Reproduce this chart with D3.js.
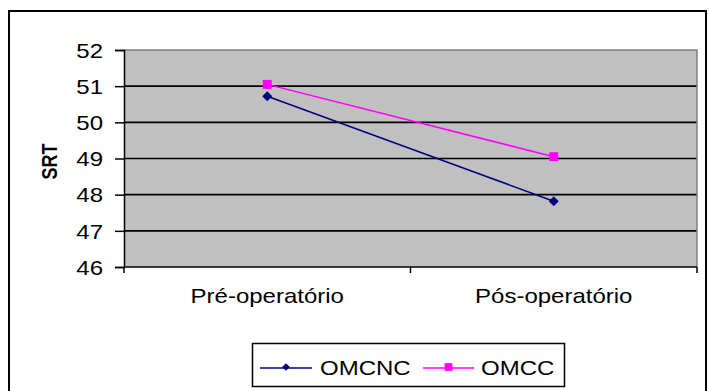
<!DOCTYPE html>
<html>
<head>
<meta charset="utf-8">
<script src="https://cdn.jsdelivr.net/npm/d3@7"></script>
<style>
  html, body { margin: 0; padding: 0; background: #fff; }
  svg { display: block; }
  text { font-family: "Liberation Sans", Arial, sans-serif; fill: #000; }
</style>
</head>
<body>
<svg id="chart" width="709" height="391"></svg>
<script>
// Data
const categories = ["Pré-operatório", "Pós-operatório"];
const seriesNames = ["OMCNC", "OMCC"];
const omcnc = [50.72, 47.82];
const omcc = [51.05, 49.05];
const yTicks = [46, 47, 48, 49, 50, 51, 52];

const seriesColors = ["#000080", "#FF00FF"];
const seriesValues = [omcnc, omcc];

const plot = { left: 124, right: 697, top: 50, bottom: 267 };
const SX = 1.2; // horizontal stretch of the glyphs

const svg = d3.select("#chart");

// Outer frame
svg.append("rect")
  .attr("x", 9).attr("y", 11)
  .attr("width", 697).attr("height", 400)
  .attr("fill", "#fff").attr("stroke", "#000").attr("stroke-width", 2);

const x = d3.scalePoint().domain(categories).range([plot.left, plot.right]).padding(0.5);
const xBand = d3.scaleBand().domain(categories).range([plot.left, plot.right]);
const y = d3.scaleLinear().domain([46, 52]).range([plot.bottom, plot.top]);

// Plot area background
svg.append("rect")
  .attr("x", plot.left).attr("y", plot.top)
  .attr("width", plot.right - plot.left).attr("height", plot.bottom - plot.top)
  .attr("fill", "#C0C0C0");

// Gridlines
svg.append("g").selectAll("line")
  .data(yTicks.filter(d => d > 46 && d < 52))
  .join("line")
  .attr("x1", plot.left).attr("x2", plot.right)
  .attr("y1", d => y(d)).attr("y2", d => y(d))
  .attr("stroke", "#000").attr("stroke-width", 1.6);

// Plot border (top & right in grey)
svg.append("path")
  .attr("d", `M${plot.left},${plot.top}H${plot.right}V${plot.bottom}`)
  .attr("fill", "none").attr("stroke", "#808080").attr("stroke-width", 1.5);

// Y axis
const yAxis = svg.append("g")
  .attr("transform", `translate(${plot.left},0)`)
  .call(d3.axisLeft(y).tickValues(yTicks).tickSize(9).tickPadding(12).tickFormat(d3.format("d")));
yAxis.select(".domain").attr("stroke", "#000").attr("stroke-width", 1.5);
yAxis.selectAll(".tick line").attr("stroke", "#000").attr("stroke-width", 1.5);
yAxis.selectAll(".tick text")
  .attr("font-size", 20)
  .attr("font-family", "Liberation Sans, Arial, sans-serif")
  .attr("fill", "#000")
  .attr("dy", "0.36em")
  .each(function () {
    // stretch glyphs horizontally around their right edge
    const t = d3.select(this);
    const xx = +t.attr("x");
    t.attr("x", xx / SX).attr("transform", `scale(${SX},1)`);
  });

// X axis
const xAxis = svg.append("g")
  .attr("transform", `translate(0,${plot.bottom})`);
xAxis.append("line")
  .attr("x1", plot.left).attr("x2", plot.right)
  .attr("stroke", "#000").attr("stroke-width", 1.6);
const boundaries = [plot.left, ...categories.slice(1).map(c => xBand(c)), plot.right];
xAxis.selectAll("line.tk").data(boundaries).join("line")
  .attr("class", "tk")
  .attr("x1", d => d).attr("x2", d => d)
  .attr("y1", 0).attr("y2", 6)
  .attr("stroke", "#000").attr("stroke-width", 1.5);
xAxis.selectAll("text").data(categories).join("text")
  .attr("transform", d => `translate(${x(d)},36) scale(${SX},1)`)
  .attr("text-anchor", "middle")
  .attr("font-size", 20)
  .text(d => d);

// Y axis title
svg.append("text")
  .attr("transform", `translate(57,${(plot.top + plot.bottom) / 2 + 3}) scale(${SX},1) rotate(-90)`)
  .attr("text-anchor", "middle")
  .attr("font-size", 18)
  .attr("font-weight", "bold")
  .text("SRT");

// Series lines
const line = d3.line().x((d, i) => x(categories[i])).y(d => y(d));
seriesValues.forEach((vals, si) => {
  svg.append("path")
    .datum(vals)
    .attr("d", line)
    .attr("fill", "none")
    .attr("stroke", seriesColors[si])
    .attr("stroke-width", 1.5);
});

// Markers: diamond = square turned by 45 degrees
const diamond = d3.symbol().type(d3.symbolSquare).size(50);
const square = d3.symbol().type(d3.symbolSquare).size(80);
svg.append("g").selectAll("path").data(omcnc).join("path")
  .attr("transform", (d, i) => `translate(${x(categories[i])},${y(d)}) rotate(45)`)
  .attr("d", diamond)
  .attr("fill", seriesColors[0]);
svg.append("g").selectAll("path").data(omcc).join("path")
  .attr("transform", (d, i) => `translate(${x(categories[i])},${y(d)})`)
  .attr("d", square)
  .attr("fill", seriesColors[1]);

// Legend
const legend = svg.append("g");
legend.append("rect")
  .attr("x", 252.5).attr("y", 343.5).attr("width", 312).attr("height", 43)
  .attr("fill", "#fff").attr("stroke", "#000").attr("stroke-width", 1.5);
const legendItems = [
  { name: seriesNames[0], x0: 260, x1: 312, tx: 320, sym: d3.symbol().type(d3.symbolSquare).size(30), rot: 45 },
  { name: seriesNames[1], x0: 423, x1: 474, tx: 481, sym: d3.symbol().type(d3.symbolSquare).size(60), rot: 0 }
];
legendItems.forEach((it, i) => {
  legend.append("line")
    .attr("x1", it.x0).attr("x2", it.x1).attr("y1", 368).attr("y2", 368)
    .attr("stroke", seriesColors[i]).attr("stroke-width", 1.5);
  legend.append("path")
    .attr("transform", `translate(${(it.x0 + it.x1) / 2},367) rotate(${it.rot})`)
    .attr("d", it.sym)
    .attr("fill", seriesColors[i]);
  legend.append("text")
    .attr("transform", `translate(${it.tx},375) scale(${SX},1)`)
    .attr("font-size", 20)
    .text(it.name);
});
</script>
</body>
</html>
